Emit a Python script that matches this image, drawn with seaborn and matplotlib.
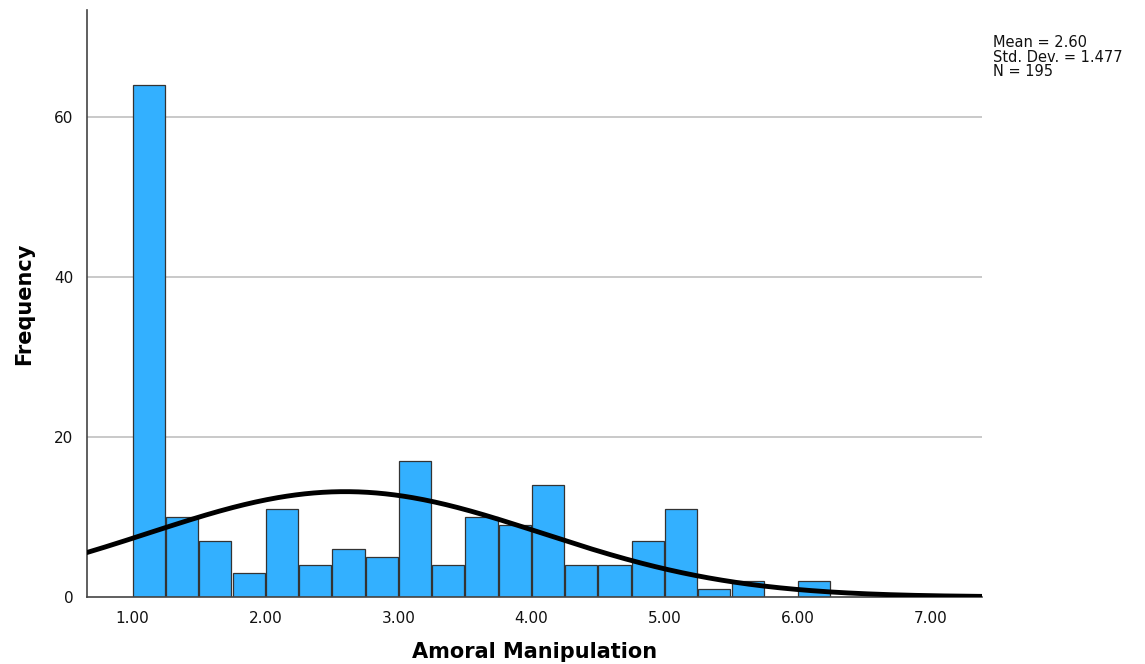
import numpy as np
import pandas as pd
import matplotlib
matplotlib.use("Agg")
import matplotlib.pyplot as plt
import seaborn as sns

# histogram bins (width 0.25) read from the SPSS output
bin_left = [1.00, 1.25, 1.50, 1.75, 2.00, 2.25, 2.50, 2.75, 3.00, 3.25, 3.50,
            3.75, 4.00, 4.25, 4.50, 4.75, 5.00, 5.25, 5.50, 5.75, 6.00]
counts = [64, 10, 7, 3, 11, 4, 6, 5, 17, 4, 10, 9, 14, 4, 4, 7, 11, 1, 2, 0, 2]
bin_width = 0.25

mean_val = 2.60
std_val = 1.477
n_val = 195

x_ticks = [1, 2, 3, 4, 5, 6, 7]
y_ticks = [0, 20, 40, 60]

sns.set_theme(style="white")
plt.rcParams['font.family'] = ['DejaVu Sans']

fig = plt.figure(figsize=(11.45, 6.64), dpi=100)
ax = fig.add_axes([0.076, 0.101, 0.782, 0.884])

df = pd.DataFrame({"center": np.array(bin_left) + bin_width / 2, "count": counts})
edges = list(bin_left) + [bin_left[-1] + bin_width]
sns.histplot(data=df, x="center", weights="count", bins=edges, shrink=0.965,
             color="#33b0ff", edgecolor="#333333", linewidth=0.9, alpha=1, ax=ax, zorder=2)

# normal curve scaled to frequencies
xs = np.linspace(0.66, 7.39, 400)
ys = n_val * bin_width * np.exp(-0.5 * ((xs - mean_val) / std_val) ** 2) / (std_val * np.sqrt(2 * np.pi))
sns.lineplot(x=xs, y=ys, color="black", linewidth=3.5, ax=ax, zorder=3)

ax.set_xlim(0.66, 7.39)
ax.set_ylim(0, 73.4)
ax.set_xticks(x_ticks)
ax.set_xticklabels([f"{v:.2f}" for v in x_ticks])
ax.set_yticks(y_ticks)
for y in y_ticks[1:]:
    ax.axhline(y, color="#bbbbbb", linewidth=1.1, zorder=1)

ax.tick_params(axis="both", length=0, labelsize=11, colors="#111111", pad=10)
for s in ["top", "right"]:
    ax.spines[s].set_visible(False)
for s in ["left", "bottom"]:
    ax.spines[s].set_color("#444444")
    ax.spines[s].set_linewidth(1.2)

ax.set_xlabel("Amoral Manipulation", fontsize=15, fontweight="bold", labelpad=12, color="black")
ax.set_ylabel("Frequency", fontsize=15, fontweight="bold", labelpad=14, color="black")

fig.text(0.867, 0.947, f"Mean = {mean_val:.2f}\nStd. Dev. = {std_val:.3f}\nN = {n_val}",
         fontsize=10.5, va="top", ha="left", linespacing=0.95, color="#111111")

fig.savefig("out.png", dpi=100)
